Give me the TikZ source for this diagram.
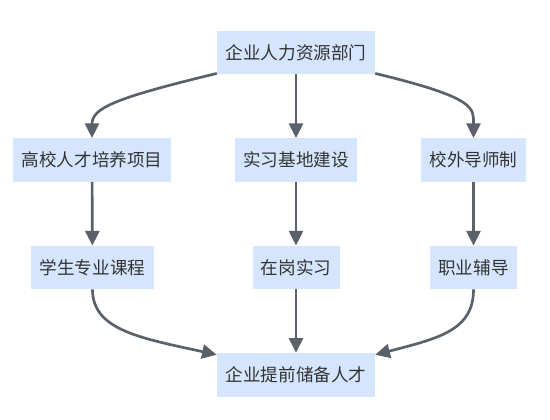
\documentclass[tikz,border=0pt]{standalone}
\usepackage{fontspec}
\setmainfont{Noto Sans CJK SC}
\usetikzlibrary{arrows.meta}
\definecolor{boxfill}{HTML}{D5E5FD}
\definecolor{linecol}{HTML}{5A616B}
\definecolor{txtcol}{HTML}{333333}
\begin{document}
\begin{tikzpicture}[x=0.75pt,y=-0.75pt,
  box/.style={fill=boxfill,draw=none,text=txtcol,minimum height=32.5pt,inner sep=0pt,font=\fontsize{13.2pt}{15pt}\selectfont},
  conn/.style={draw=linecol,line width=2pt,-{Triangle[length=11pt,width=10.5pt]}}]
\useasboundingbox (0,0) rectangle (550,419);
\node[box,minimum width=118.5pt] (hr) at (296,52.5) {企业人力资源部门};
\node[box,minimum width=118.5pt] (gx) at (92,160) {高校人才培养项目};
\node[box,minimum width=91.5pt] (sx) at (296,160) {实习基地建设};
\node[box,minimum width=78.75pt] (xw) at (473.5,160) {校外导师制};
\node[box,minimum width=92.25pt] (xs) at (92.5,267.5) {学生专业课程};
\node[box,minimum width=65.25pt] (zg) at (296,267.5) {在岗实习};
\node[box,minimum width=65.25pt] (zy) at (473.5,267.5) {职业辅导};
\node[box,minimum width=118.5pt,minimum height=33pt] (cb) at (296,375) {企业提前储备人才};
\draw[conn] (hr.south west) ++(0,-1) .. controls (115,98) and (92,108) .. (gx.north);
\draw[conn] (hr.south east) ++(0,-1) .. controls (477,98) and (473.5,108) .. (xw.north);
\draw[conn] (hr) -- (sx);
\draw[conn] (gx) -- (xs);
\draw[conn] (sx) -- (zg);
\draw[conn] (xw) -- (zy);
\draw[conn] (zg) -- (cb);
\draw[conn] (xs.south) .. controls (92.5,330) and (140,338) .. ([yshift=-1.5pt]cb.north west);
\draw[conn] (zy.south) .. controls (473.5,330) and (440,338) .. ([yshift=-1.5pt]cb.north east);
\end{tikzpicture}
\end{document}
